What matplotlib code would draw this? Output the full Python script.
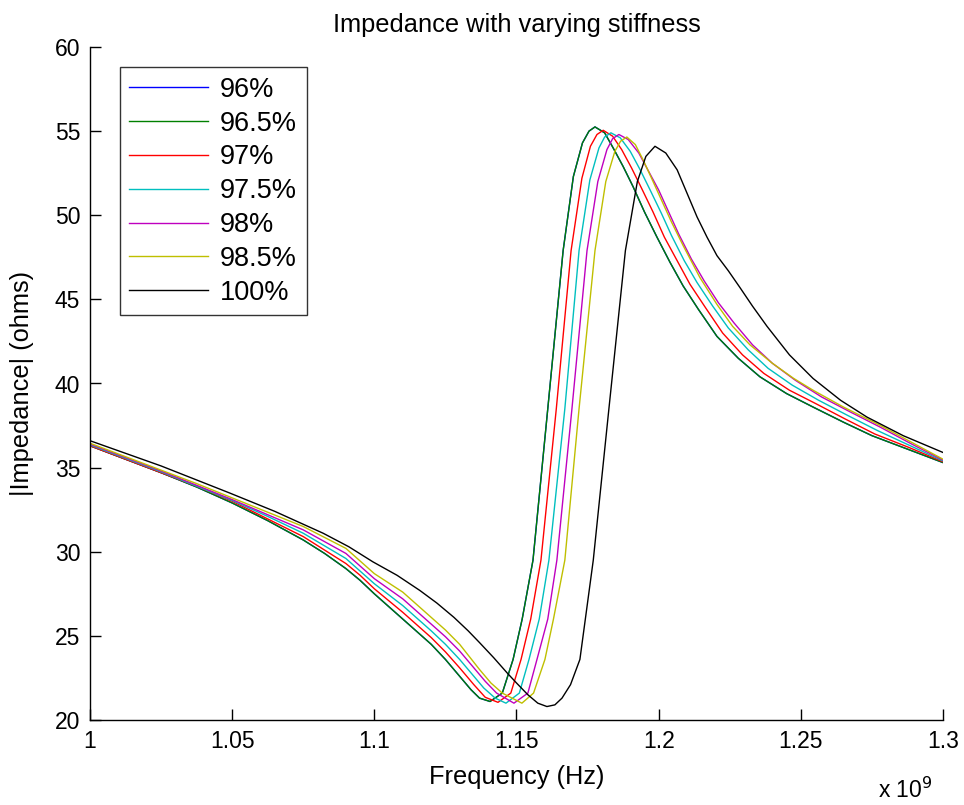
import matplotlib
matplotlib.use("Agg")
import matplotlib.pyplot as plt

# frequency in units of 1e9 Hz, |Z| in ohms
f_965 = [1.000, 1.0125, 1.025, 1.0375, 1.050, 1.0625, 1.075, 1.0825, 1.090, 1.095, 1.100, 1.105, 1.110, 1.115,
         1.120, 1.125, 1.130, 1.134, 1.137, 1.1407, 1.145, 1.1488, 1.152, 1.1558, 1.161, 1.1664, 1.170, 1.1732,
         1.1755, 1.1776, 1.181, 1.184, 1.1875, 1.191, 1.195, 1.1994, 1.204, 1.2086, 1.214, 1.2205, 1.228, 1.2356,
         1.245, 1.2543, 1.265, 1.275, 1.2875, 1.300]
z_965 = [36.3, 35.5, 34.7, 33.85, 32.9, 31.85, 30.7, 29.9, 29.0, 28.3, 27.5, 26.75, 26.0, 25.25,
         24.5, 23.6, 22.6, 21.8, 21.3, 21.1, 21.6, 23.6, 26.0, 29.5, 38.5, 47.9, 52.3, 54.3,
         55.0, 55.25, 54.9, 54.0, 52.9, 51.7, 50.2, 48.7, 47.2, 45.8, 44.4, 42.8, 41.5, 40.4,
         39.4, 38.6, 37.7, 36.9, 36.1, 35.3]

# the 96% trace sits underneath the 96.5% trace in the reference
f_960 = list(f_965)
z_960 = list(z_965)

f_970 = [1.000, 1.0125, 1.025, 1.0375, 1.050, 1.0625, 1.075, 1.0825, 1.090, 1.095, 1.100, 1.105, 1.110, 1.115,
         1.120, 1.125, 1.130, 1.135, 1.139, 1.1435, 1.148, 1.1516, 1.155, 1.1586, 1.164, 1.1692, 1.173, 1.176,
         1.1783, 1.1805, 1.1838, 1.187, 1.1905, 1.194, 1.198, 1.202, 1.2065, 1.211, 1.2165, 1.2225, 1.2295, 1.237,
         1.246, 1.2553, 1.2655, 1.276, 1.288, 1.300]
z_970 = [36.3, 35.5, 34.7, 33.9, 33.0, 31.95, 30.9, 30.1, 29.3, 28.6, 27.8, 27.1, 26.4, 25.65,
         24.9, 24.05, 23.1, 22.1, 21.35, 21.05, 21.6, 23.6, 26.0, 29.5, 38.5, 47.9, 52.2, 54.1,
         54.8, 55.05, 54.7, 53.9, 52.8, 51.6, 50.2, 48.7, 47.3, 45.9, 44.5, 43.0, 41.7, 40.6,
         39.6, 38.8, 37.9, 37.0, 36.2, 35.35]

f_975 = [1.000, 1.0125, 1.025, 1.0375, 1.050, 1.0625, 1.075, 1.0825, 1.090, 1.095, 1.100, 1.105, 1.110, 1.115,
         1.120, 1.125, 1.130, 1.135, 1.1385, 1.1425, 1.1463, 1.151, 1.1544, 1.158, 1.1614, 1.167, 1.172, 1.1758,
         1.179, 1.181, 1.1832, 1.1865, 1.190, 1.1935, 1.197, 1.201, 1.2045, 1.209, 1.2135, 1.219, 1.2245, 1.2315,
         1.2385, 1.247, 1.2563, 1.2665, 1.277, 1.2885, 1.300]
z_975 = [36.35, 35.55, 34.75, 33.9, 33.05, 32.1, 31.1, 30.35, 29.6, 28.85, 28.1, 27.45, 26.8, 26.05,
         25.3, 24.5, 23.6, 22.6, 21.9, 21.3, 21.0, 21.6, 23.6, 26.0, 29.5, 38.5, 47.9, 52.1,
         54.0, 54.65, 54.9, 54.6, 53.8, 52.7, 51.5, 50.1, 48.8, 47.3, 46.0, 44.6, 43.3, 42.0,
         40.9, 39.9, 39.0, 38.1, 37.2, 36.3, 35.4]

f_980 = [1.000, 1.0125, 1.025, 1.0375, 1.050, 1.0625, 1.075, 1.0825, 1.090, 1.095, 1.100, 1.105, 1.110, 1.115,
         1.120, 1.125, 1.130, 1.135, 1.139, 1.143, 1.1491, 1.154, 1.1572, 1.161, 1.1642, 1.1695, 1.1748, 1.1786,
         1.1818, 1.1838, 1.186, 1.1893, 1.193, 1.1965, 1.200, 1.2035, 1.207, 1.2115, 1.216, 1.221, 1.2265, 1.233,
         1.240, 1.248, 1.2573, 1.2675, 1.278, 1.289, 1.300]
z_980 = [36.4, 35.6, 34.8, 33.95, 33.1, 32.2, 31.3, 30.6, 29.9, 29.15, 28.4, 27.8, 27.2, 26.45,
         25.7, 24.95, 24.1, 23.1, 22.3, 21.6, 21.0, 21.6, 23.6, 26.0, 29.5, 38.5, 47.9, 52.0,
         53.9, 54.55, 54.8, 54.5, 53.7, 52.6, 51.5, 50.2, 48.9, 47.4, 46.1, 44.8, 43.6, 42.3,
         41.2, 40.2, 39.2, 38.3, 37.4, 36.4, 35.45]

f_985 = [1.000, 1.0125, 1.025, 1.0375, 1.050, 1.0625, 1.075, 1.0825, 1.090, 1.095, 1.100, 1.105, 1.110, 1.115,
         1.120, 1.125, 1.130, 1.137, 1.141, 1.145, 1.1519, 1.156, 1.160, 1.163, 1.167, 1.172, 1.1776, 1.1814,
         1.1846, 1.1866, 1.1888, 1.1918, 1.1945, 1.1975, 1.2010, 1.2045, 1.2086, 1.2145, 1.2205, 1.226, 1.2321,
         1.240, 1.2475, 1.2543, 1.265, 1.278, 1.289, 1.300]
z_985 = [36.45, 35.65, 34.85, 34.05, 33.2, 32.35, 31.5, 30.85, 30.2, 29.45, 28.7, 28.15, 27.6, 26.85,
         26.1, 25.35, 24.5, 23.0, 22.2, 21.6, 21.0, 21.6, 23.6, 26.0, 29.5, 38.5, 47.9, 52.0,
         53.8, 54.4, 54.65, 54.2, 53.3, 52.2, 50.9, 49.6, 48.2, 46.3, 44.7, 43.4, 42.3,
         41.2, 40.3, 39.6, 38.6, 37.5, 36.5, 35.5]

f_1000 = [1.000, 1.0125, 1.025, 1.037, 1.049, 1.065, 1.082, 1.091, 1.0995, 1.108, 1.116, 1.122, 1.128, 1.133,
          1.137, 1.142, 1.1467, 1.150, 1.154, 1.1575, 1.1607, 1.1635, 1.166, 1.169, 1.1723, 1.177, 1.1825, 1.1883,
          1.1925, 1.1955, 1.1987, 1.2025, 1.2065, 1.2100, 1.2135, 1.2170, 1.2205, 1.2245, 1.2286, 1.2330, 1.2381,
          1.2460, 1.2543, 1.2640, 1.2733, 1.2860, 1.300]
z_1000 = [36.6, 35.85, 35.1, 34.3, 33.5, 32.4, 31.1, 30.3, 29.4, 28.6, 27.7, 26.95, 26.1, 25.3,
          24.6, 23.7, 22.8, 22.2, 21.5, 21.0, 20.8, 20.9, 21.3, 22.1, 23.6, 29.5, 38.5, 47.9,
          52.0, 53.5, 54.1, 53.7, 52.7, 51.3, 49.9, 48.7, 47.6, 46.7, 45.7, 44.6, 43.4,
          41.7, 40.3, 39.0, 38.0, 36.9, 35.9]

labels = ["96%", "96.5%", "97%", "97.5%", "98%", "98.5%", "100%"]
colors = ["#0000ff", "#008000", "#ff0000", "#00bfbf", "#bf00bf", "#bfbf00", "#000000"]
series = [(f_960, z_960), (f_965, z_965), (f_970, z_970), (f_975, z_975),
          (f_980, z_980), (f_985, z_985), (f_1000, z_1000)]

plt.rcParams['font.family'] = ['Liberation Sans', 'DejaVu Sans']
fs_tick = 16.5
fs_lab = 18.3

fig = plt.figure(figsize=(9.64, 8.05), dpi=100)
ax = fig.add_axes([90 / 964, 1 - 720 / 805, 853 / 964, 673 / 805])

for (f, z), lab, c in zip(series, labels, colors):
    ax.plot(f, z, color=c, lw=1.0, label=lab)

ax.set_xlim(1.0, 1.3)
ax.set_ylim(20, 60)
ax.set_xticks([1, 1.05, 1.1, 1.15, 1.2, 1.25, 1.3])
ax.set_xticklabels(["1", "1.05", "1.1", "1.15", "1.2", "1.25", "1.3"])
ax.set_yticks(range(20, 61, 5))
ax.tick_params(direction="in", length=8, width=1, labelsize=fs_tick, pad=7)
for side in ["top", "right"]:
    ax.spines[side].set_visible(False)
for side in ["left", "bottom"]:
    ax.spines[side].set_linewidth(1.0)

ax.set_title("Impedance with varying stiffness", fontsize=fs_lab, pad=11)
ax.set_xlabel("Frequency (Hz)", fontsize=fs_lab, labelpad=9)
ax.set_ylabel("|Impedance| (ohms)", fontsize=fs_lab, labelpad=15)
fig.text(905 / 964, 1 - 790 / 805, r"x 10$^9$", fontsize=fs_tick, ha="center", va="center")

leg = ax.legend(loc="upper left", bbox_to_anchor=(0.035, 0.97), fontsize=19.5,
                handlelength=2.9, handletextpad=0.45, labelspacing=0.29,
                borderpad=0.35, frameon=True, fancybox=False, borderaxespad=0)
leg.get_frame().set_edgecolor("black")
leg.get_frame().set_linewidth(1.0)

fig.savefig("out.png", dpi=100)
